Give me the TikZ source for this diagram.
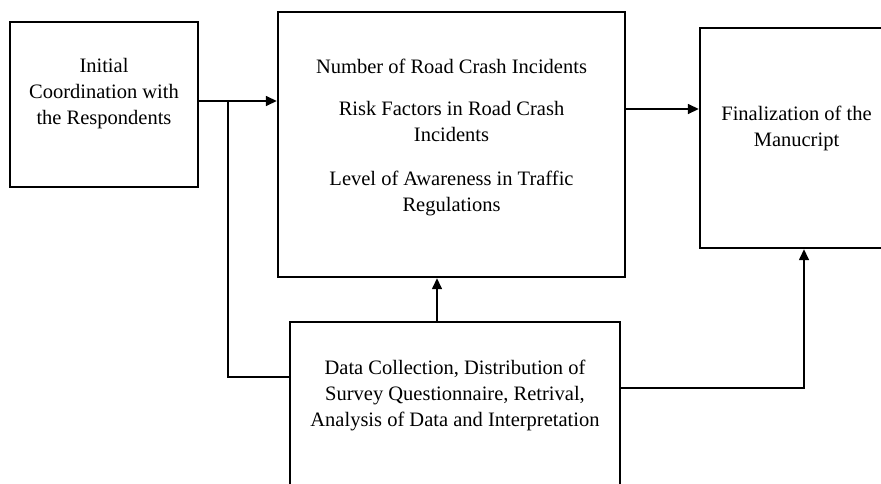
\documentclass[tikz,border=0pt]{standalone}
\usepackage{fontspec}
\setmainfont{Liberation Serif}
\usetikzlibrary{positioning,arrows.meta}

\begin{document}
\begin{tikzpicture}[x=1pt, y=-1pt,
  >={Triangle[length=11pt, width=10pt]},
  box/.style={draw, line width=2.4pt, inner sep=0pt},
  txt/.style={align=center, font=\fontsize{20.5}{26}\selectfont},
  conn/.style={line width=1.5pt}]
\useasboundingbox (0,0) rectangle (881,483);
\clip (0,0) rectangle (881,483);

% Initial coordination
\node[box, minimum width=188pt, minimum height=165pt] (init) at (104,104.5) {};
\node[txt] at (104,94) {Initial\\Coordination with\\the Respondents};

% Road crash topics
\node[box, minimum width=347pt, minimum height=265pt] (crash) at (451.5,144.5) {};
\node[txt] at (451.5,137) {Number of Road Crash Incidents\\[16pt]
  Risk Factors in Road Crash\\Incidents\\[18pt]
  Level of Awareness in Traffic\\Regulations};

% Finalization
\node[box, minimum width=193pt, minimum height=220pt] (final) at (796.5,138) {};
\node[txt] at (796.5,128) {Finalization of the\\Manucript};

% Data collection
\node[box, minimum width=330pt, minimum height=220pt] (datac) at (455,432) {};
\node[txt] at (455,395) {Data Collection, Distribution of\\Survey Questionnaire, Retrival,\\Analysis of Data and Interpretation};

% Connectors
\coordinate (split) at (228,101);
\coordinate (turn) at (228,377);
\coordinate (up) at (437,300);
\coordinate (mid) at (660,109);
\coordinate (corner) at (804,388);

\draw[->, conn] (init.east |- split) -- (crash.west |- split);
\draw[conn] (split) -- (turn) -- (datac.west |- turn);
\draw[->, conn] (datac.north -| up) -- (crash.south -| up);
\draw[->, conn] (crash.east |- mid) -- (final.west |- mid);
\draw[->, conn] (datac.east |- corner) -- (corner) -- (final.south -| corner);
\end{tikzpicture}
\end{document}
